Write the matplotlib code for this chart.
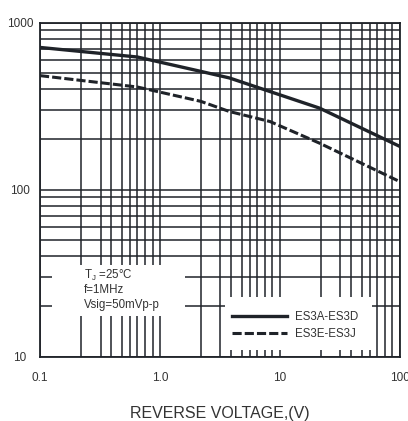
import numpy as np
import matplotlib
matplotlib.use('Agg')
import matplotlib.pyplot as plt
from matplotlib.patches import Rectangle
from matplotlib.ticker import FixedLocator, NullFormatter

plt.rcParams['font.family'] = ['Liberation Sans', 'DejaVu Sans']

# junction capacitance vs reverse voltage
volt_a = [0.1, 0.65, 2.2, 3.8, 21.5, 100]
cap_a = [711, 623, 511, 467, 308, 182]
volt_e = [0.1, 0.65, 2.2, 3.8, 8.3, 21.5, 100]
cap_e = [482, 412, 338, 294, 256, 190, 112]
series_labels = ['ES3A-ES3D', 'ES3E-ES3J']

x_ticks = [0.1, 1.0, 10, 100]
x_tick_labels = ['0.1', '1.0', '10', '100']
y_ticks = [10, 100, 1000]
y_tick_labels = ['10', '100', '1000']
conditions = ['T$_\\mathregular{J}$ =25°C', 'f=1MHz', 'Vsig=50mVp-p']

ink = '#1f2329'

# the printed chart paper uses its own vertical sub-grid inside a decade
x_frac = [0.343, 0.505, 0.592, 0.684, 0.752, 0.81, 0.878, 0.94]
x_minor = [10 ** (d + f) for d in (-1, 0, 1) for f in x_frac]
y_minor = [m * 10 ** d for d in (1, 2) for m in range(2, 10)]

fig = plt.figure(figsize=(4.08, 4.21), dpi=100)
ax = fig.add_axes([40 / 408, 1 - 356.7 / 421, 359.5 / 408, 334 / 421])
ax.set_xscale('log')
ax.set_yscale('log')
ax.set_xlim(0.1, 100)
ax.set_ylim(10, 1000)

ax.xaxis.set_major_locator(FixedLocator(x_ticks))
ax.xaxis.set_minor_locator(FixedLocator(x_minor))
ax.yaxis.set_major_locator(FixedLocator(y_ticks))
ax.yaxis.set_minor_locator(FixedLocator(y_minor))
ax.xaxis.set_minor_formatter(NullFormatter())
ax.yaxis.set_minor_formatter(NullFormatter())
ax.set_xticklabels(x_tick_labels)
ax.set_yticklabels(y_tick_labels)

ax.grid(True, which='both', color=ink, linewidth=1.1)
ax.tick_params(which='both', length=0, labelsize=8.5, colors='#333333')
ax.tick_params(axis='x', pad=11)
ax.tick_params(axis='y', pad=14.4)
for lab in ax.get_yticklabels():
    lab.set_horizontalalignment('center')

for s in ax.spines.values():
    s.set_color(ink)
    s.set_linewidth(1.3)

# white cut-outs in the grid for the notes and the key
ax.add_patch(Rectangle((0.0334, 0.1219), 0.37, 0.1527, transform=ax.transAxes,
                       facecolor='white', edgecolor='none', zorder=2))
ax.add_patch(Rectangle((0.5146, 0.02), 0.409, 0.1587, transform=ax.transAxes,
                       facecolor='white', edgecolor='none', zorder=2))

ax.plot(volt_a, cap_a, color=ink, linewidth=2.4, label=series_labels[0], zorder=3)
ax.plot(volt_e, cap_e, color=ink, linewidth=2.2, dashes=(3, 1),
        label=series_labels[1], zorder=3)

for i, txt in enumerate(conditions):
    ax.text(0.1224, 0.2446 - i * 0.0449, txt, transform=ax.transAxes,
            fontsize=8.3, va='center', ha='left', color='#333333', zorder=4)

leg = ax.legend(loc='upper left', bbox_to_anchor=(0.533, 0.137), frameon=False,
                fontsize=8.3, handlelength=4.8, handletextpad=0.7, labelspacing=0.4,
                borderpad=0, borderaxespad=0)
for t in leg.get_texts():
    t.set_color('#333333')
leg.set_zorder(4)

ax.set_xlabel('REVERSE VOLTAGE,(V)', fontsize=11.5, labelpad=16, color='#333333')

fig.savefig('out.png', dpi=100)
